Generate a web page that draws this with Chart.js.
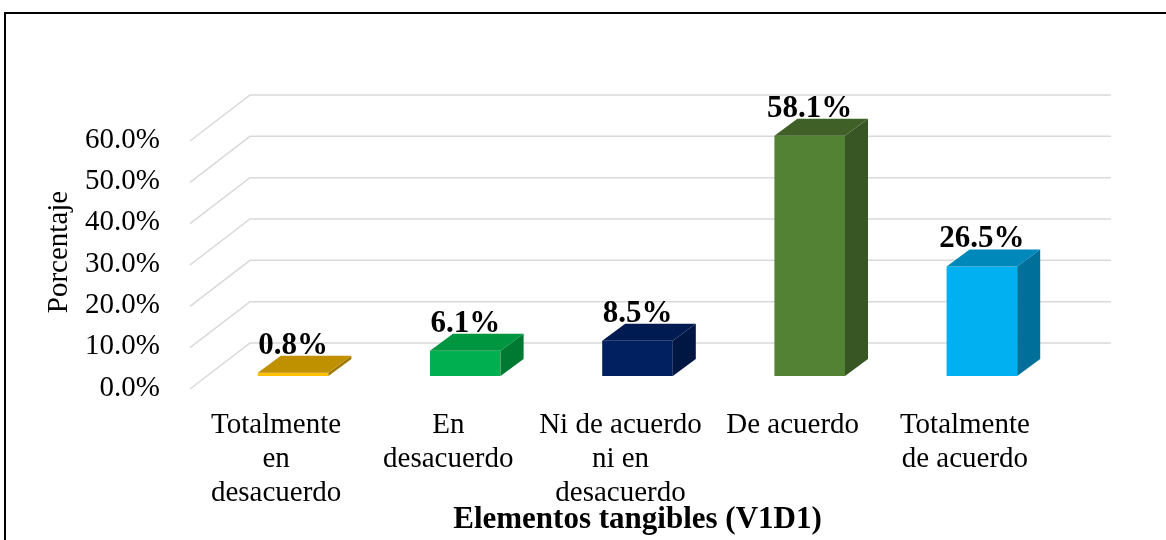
<!DOCTYPE html>
<html>
<head>
<meta charset="utf-8">
<script src="https://cdn.jsdelivr.net/npm/chart.js@4.4.0/dist/chart.umd.min.js"></script>
<style>
  html, body { margin: 0; padding: 0; background: #fff; }
  canvas { display: block; }
</style>
</head>
<body>
<canvas id="grafico" width="1166" height="540"></canvas>
<script>
    "use strict";

    // Datos
    var categorias = [
        ["Totalmente", "en", "desacuerdo"],
        ["En", "desacuerdo"],
        ["Ni de acuerdo", "ni en", "desacuerdo"],
        ["De acuerdo"],
        ["Totalmente", "de acuerdo"]
    ];
    var porcentajes = [0.8, 6.1, 8.5, 58.1, 26.5];
    var ticksY = [0, 10, 20, 30, 40, 50, 60];

    // Colores: frente, tapa, lateral
    var colorFrente = ["#FFC000", "#00B050", "#002060", "#548235", "#00B0F0"];
    var colorTapa = ["#BF9000", "#00963F", "#001B52", "#3F6128", "#0088BA"];
    var colorLado = ["#A07800", "#007A33", "#001643", "#375623", "#00709A"];

    // Profundidad 3D
    var barDx = 23, barDy = 17;      // fondo de cada barra
    var frontDx = -17, frontDy = 13; // pared frontal respecto al plano de barras
    var backDx = 43, backDy = -33;   // pared trasera

    var fuente = "'Liberation Serif', 'Times New Roman', serif";

    // Marco exterior
    var marco = {
        id: "marco",
        beforeDraw: function (chart) {
            var ctx = chart.ctx;
            ctx.save();
            ctx.strokeStyle = "#000";
            ctx.lineWidth = 2;
            ctx.beginPath();
            ctx.moveTo(5, 540);
            ctx.lineTo(5, 13);
            ctx.lineTo(1166, 13);
            ctx.stroke();
            ctx.restore();
        }
    };

    // Rejilla en perspectiva
    var rejilla = {
        id: "rejilla",
        beforeDatasetsDraw: function (chart) {
            var ctx = chart.ctx;
            var y = chart.scales.y;
            var area = chart.chartArea;
            ctx.save();
            ctx.strokeStyle = "#d9d9d9";
            ctx.lineWidth = 1.5;
            ticksY.forEach(function (v) {
                var py = y.getPixelForValue(v);
                ctx.beginPath();
                ctx.moveTo(area.left + frontDx, py + frontDy);
                ctx.lineTo(area.left + backDx, py + backDy);
                ctx.lineTo(area.right + backDx, py + backDy);
                ctx.stroke();
            });
            ctx.restore();
        }
    };

    // Caras 3D y etiquetas
    var barras3d = {
        id: "barras3d",
        afterDatasetsDraw: function (chart) {
            var ctx = chart.ctx;
            var meta = chart.getDatasetMeta(0);
            ctx.save();
            meta.data.forEach(function (bar, i) {
                var l = bar.x - bar.width / 2;
                var r = bar.x + bar.width / 2;
                var t = bar.y;
                var b = bar.base;

                // lateral
                ctx.fillStyle = colorLado[i];
                ctx.beginPath();
                ctx.moveTo(r, t);
                ctx.lineTo(r + barDx, t - barDy);
                ctx.lineTo(r + barDx, b - barDy);
                ctx.lineTo(r, b);
                ctx.closePath();
                ctx.fill();

                // tapa
                ctx.fillStyle = colorTapa[i];
                ctx.beginPath();
                ctx.moveTo(l, t);
                ctx.lineTo(r, t);
                ctx.lineTo(r + barDx, t - barDy);
                ctx.lineTo(l + barDx, t - barDy);
                ctx.closePath();
                ctx.fill();

                // etiqueta
                ctx.fillStyle = "#000";
                ctx.font = "bold 31px " + fuente;
                ctx.textAlign = "center";
                ctx.textBaseline = "alphabetic";
                ctx.fillText(porcentajes[i].toFixed(1) + "%", bar.x, t - 19);
            });
            ctx.restore();
        }
    };

    var ctx = document.getElementById("grafico").getContext("2d");
    var grafico = new Chart(ctx, {
        type: "bar",
        data: {
            labels: categorias,
            datasets: [{
                data: porcentajes,
                backgroundColor: colorFrente,
                borderWidth: 0,
                categoryPercentage: 1,
                barPercentage: 0.41
            }]
        },
        options: {
            responsive: false,
            animation: false,
            devicePixelRatio: 1,
            layout: {
                padding: { left: 0, right: 98, top: 128, bottom: 0 }
            },
            plugins: {
                legend: { display: false },
                tooltip: { enabled: false }
            },
            scales: {
                x: {
                    grid: { display: false, drawTicks: false },
                    border: { display: false },
                    ticks: {
                        color: "#000",
                        font: { family: fuente, size: 29, lineHeight: 1.18 },
                        padding: 32,
                        labelOffset: -17,
                        autoSkip: false,
                        maxRotation: 0,
                        minRotation: 0
                    },
                    title: {
                        display: true,
                        text: "Elementos tangibles (V1D1)",
                        color: "#000",
                        font: { family: fuente, size: 31, weight: "bold", lineHeight: 1.2 },
                        padding: { top: 0, bottom: 1 }
                    },
                    afterFit: function (s) { s.height = 164; }
                },
                y: {
                    min: 0,
                    max: 60,
                    grid: { display: false, drawTicks: false },
                    border: { display: false },
                    ticks: {
                        stepSize: 10,
                        color: "#000",
                        font: { family: fuente, size: 29 },
                        padding: 47,
                        labelOffset: 12,
                        callback: function (v) { return v.toFixed(1) + "%"; }
                    },
                    title: {
                        display: true,
                        text: "Porcentaje",
                        color: "#000",
                        font: { family: fuente, size: 29, lineHeight: 1.2 },
                        padding: { top: 42, bottom: 0 }
                    },
                    afterFit: function (s) { s.width = 207; }
                }
            }
        },
        plugins: [marco, rejilla, barras3d]
    });
</script>
</body>
</html>
